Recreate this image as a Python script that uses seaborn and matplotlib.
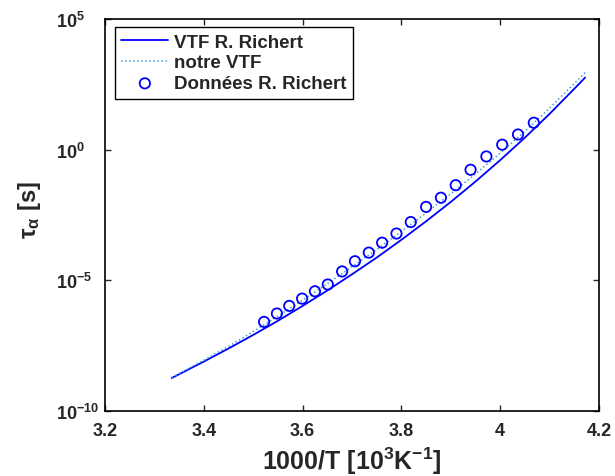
import numpy as np
import pandas as pd
import seaborn as sns
import matplotlib
matplotlib.use('Agg')
import matplotlib.pyplot as plt
from matplotlib.ticker import FixedLocator, FixedFormatter, NullLocator

# values (x = 1000/T, y = log10 tau)
x_curve = [3.335, 3.40, 3.45, 3.50, 3.55, 3.60, 3.65, 3.70, 3.75,
           3.80, 3.85, 3.90, 3.95, 4.00, 4.05, 4.10, 4.15, 4.172]
log_richert = [-8.74, -8.11, -7.61, -7.09, -6.55, -5.98, -5.39, -4.77, -4.13,
               -3.45, -2.74, -2.00, -1.22, -0.40, 0.46, 1.37, 2.33, 2.76]
log_notre = [-8.72, -8.06, -7.53, -6.96, -6.37, -5.76, -5.13, -4.48, -3.82,
             -3.13, -2.42, -1.69, -0.93, -0.13, 0.70, 1.59, 2.53, 2.95]

x_data = [3.522, 3.548, 3.573, 3.599, 3.625, 3.651, 3.680, 3.706, 3.734, 3.761,
          3.790, 3.819, 3.850, 3.880, 3.910, 3.940, 3.972, 4.004, 4.036, 4.068]
log_data = [-6.59, -6.27, -5.98, -5.70, -5.42, -5.16, -4.66, -4.27, -3.94, -3.56,
            -3.21, -2.77, -2.19, -1.84, -1.36, -0.77, -0.26, 0.19, 0.58, 1.03]

x_ticks = [3.2, 3.4, 3.6, 3.8, 4.0, 4.2]
x_ticklabels = ['3.2', '3.4', '3.6', '3.8', '4', '4.2']
y_ticks = [1e-10, 1e-5, 1e0, 1e5]
y_ticklabels = [r'$\mathbf{10^{-10}}$', r'$\mathbf{10^{-5}}$', r'$\mathbf{10^{0}}$', r'$\mathbf{10^{5}}$']

labels = ['VTF R. Richert', 'notre VTF', 'Donn\u00e9es R. Richert']

curves = pd.DataFrame({'x': x_curve,
                       'richert': 10.0 ** np.array(log_richert),
                       'notre': 10.0 ** np.array(log_notre)})
points = pd.DataFrame({'x': x_data, 'tau': 10.0 ** np.array(log_data)})

sns.set_style('ticks')
plt.rcParams['font.family'] = ['Liberation Sans', 'DejaVu Sans']
plt.rcParams['font.weight'] = 'bold'
plt.rcParams['mathtext.fontset'] = 'custom'
plt.rcParams['mathtext.rm'] = 'Liberation Sans:bold'
plt.rcParams['mathtext.bf'] = 'Liberation Sans:bold'
plt.rcParams['mathtext.sf'] = 'Liberation Sans'
plt.rcParams['mathtext.it'] = 'Liberation Sans'

fig = plt.figure(figsize=(6.15, 4.77), dpi=100)
ax = fig.add_axes([0.1707, 0.1363, 0.8033, 0.8218])

sns.lineplot(data=curves, x='x', y='richert', ax=ax, color='#0000ff', lw=1.3,
             sort=False, estimator=None, label=labels[0])
sns.lineplot(data=curves, x='x', y='notre', ax=ax, color='#3fa0d8', lw=1.1,
             linestyle=':', sort=False, estimator=None, label=labels[1])
sns.scatterplot(data=points, x='x', y='tau', ax=ax, marker='o', s=55,
                facecolor='none', edgecolor='#0000ff', linewidth=1.3,
                label=labels[2], zorder=3)

ax.set_yscale('log')
ax.set_xlim(3.2, 4.2)
ax.set_ylim(1e-10, 1e5)
ax.xaxis.set_major_locator(FixedLocator(x_ticks))
ax.xaxis.set_major_formatter(FixedFormatter(x_ticklabels))
ax.yaxis.set_major_locator(FixedLocator(y_ticks))
ax.yaxis.set_major_formatter(FixedFormatter(y_ticklabels))
ax.yaxis.set_minor_locator(NullLocator())
ax.tick_params(direction='in', top=True, right=True, length=4, width=1,
               labelsize=13)
ax.tick_params(axis='x', pad=8)
ax.tick_params(axis='y', pad=35)
plt.setp(ax.get_xticklabels(), fontweight='bold')
for lab in ax.get_yticklabels():
    lab.set_horizontalalignment('left')
    lab.set_verticalalignment('center_baseline')
for side in ax.spines.values():
    side.set_linewidth(1.2)
    side.set_color('black')

ax.set_xlabel(r'1000/T [$\mathbf{10^{3}K^{-1}}$]', fontsize=18, fontweight='bold')
ax.xaxis.set_label_coords(0.5, -0.087)
ax.set_ylabel(r'$\mathsf{\tau_{\alpha}}$ [s]', fontsize=17, fontweight='bold')
ax.yaxis.set_label_coords(-0.125, 0.515)

leg = ax.legend(loc='upper left', bbox_to_anchor=(0.02, 0.98), borderaxespad=0,
                frameon=True, fancybox=False, framealpha=1, edgecolor='black',
                prop={'weight': 'bold', 'size': 13.5}, handlelength=2.5,
                handletextpad=0.3, labelspacing=0.2, borderpad=0.35)
leg.get_frame().set_linewidth(1.0)

fig.savefig('out.png', dpi=100)
